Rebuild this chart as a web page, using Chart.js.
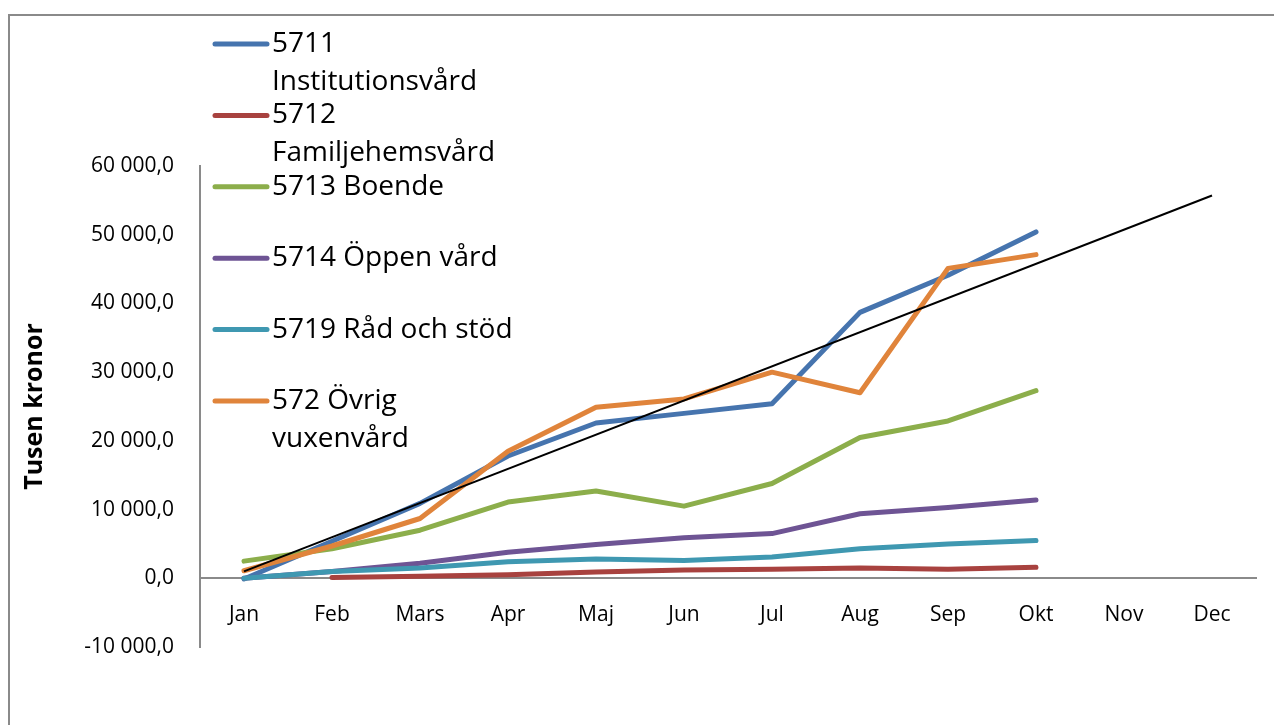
<!DOCTYPE html>
<html>
<head>
<meta charset="utf-8">
<script src="https://cdn.jsdelivr.net/npm/chart.js@4/dist/chart.umd.min.js"></script>
<style>
  html, body { margin: 0; padding: 0; background: #fff; overflow: hidden; }
  #frame { position: absolute; left: 8px; top: 14px; width: 1300px; height: 800px; border: 2px solid #8a8a8a; }
  #wrap { position: absolute; left: 0; top: 0; width: 1274px; height: 725px; }
</style>
</head>
<body>
<div id="frame"></div>
<div id="wrap"><canvas id="grafica"></canvas></div>
<script>
var months = ["Jan", "Feb", "Mars", "Apr", "Maj", "Jun", "Jul", "Aug", "Sep", "Okt", "Nov", "Dec"];

var institutionsvard = [-100, 5400, 10900, 17800, 22600, 24000, 25400, 38700, 44100, 50400];
var familjehemsvard = [null, 100, 300, 500, 900, 1200, 1300, 1500, 1300, 1600];
var boende = [2500, 4300, 7000, 11100, 12700, 10500, 13800, 20500, 22900, 27300];
var oppenVard = [0, 1000, 2200, 3800, 4900, 5900, 6500, 9400, 10300, 11400];
var radOchStod = [0, 1000, 1500, 2400, 2800, 2600, 3100, 4300, 5000, 5500];
var ovrigVuxenvard = [1100, 4700, 8700, 18500, 24900, 26100, 30000, 27000, 45100, 47100];
// linjär trend, read at first and last month
var trend = [1000, null, null, null, null, null, null, null, null, null, null, 55700];

var labels = ["5711 Institutionsvård", "5712 Familjehemsvård", "5713 Boende",
              "5714 Öppen vård", "5719 Råd och stöd", "572 Övrig vuxenvård"];
var colors = ["#4674ae", "#a8423f", "#8cae4b", "#6e5494", "#3f98b1", "#e0843b"];
var yTicks = { min: -10000, max: 60000, step: 10000 };

function kr(v) {
    var s = Math.abs(v).toFixed(0).replace(/\B(?=(\d{3})+(?!\d))/g, ' ');
    return (v < 0 ? '-' : '') + s + ',0';
}

var series = [institutionsvard, familjehemsvard, boende, oppenVard, radOchStod, ovrigVuxenvard];
var datasets = series.map(function (d, i) {
    return {
        label: labels[i],
        data: d,
        borderColor: colors[i],
        backgroundColor: colors[i],
        borderWidth: 5,
        pointRadius: 0,
        borderCapStyle: 'round',
        borderJoinStyle: 'round',
        tension: 0,
        order: 10 - i
    };
});
datasets.push({
    label: 'trend',
    data: trend,
    borderColor: '#000',
    borderWidth: 2,
    pointRadius: 0,
    spanGaps: true,
    order: 0
});

// legend drawn on top of the plot, like the original
var overlayLegend = {
    id: 'overlayLegend',
    afterDraw: function (chart) {
        var ctx = chart.ctx;
        ctx.save();
        ctx.font = '28px "Open Sans"';
        ctx.textBaseline = 'middle';
        ctx.fillStyle = '#000';
        for (var i = 0; i < 6; i++) {
            var ds = chart.data.datasets[i];
            var y = 44 + i * 71.4;
            ctx.strokeStyle = ds.borderColor;
            ctx.lineWidth = 5;
            ctx.lineCap = 'round';
            ctx.beginPath();
            ctx.moveTo(215, y);
            ctx.lineTo(267, y);
            ctx.stroke();
            // wrap words
            var words = ds.label.split(' '), line = '', lines = [];
            words.forEach(function (w) {
                var t = line ? line + ' ' + w : w;
                if (line && ctx.measureText(t).width > 250) { lines.push(line); line = w; }
                else line = t;
            });
            lines.push(line);
            lines.forEach(function (l, k) { ctx.fillText(l, 272, y + k * 38); });
        }
        ctx.restore();
    }
};

var ctx = document.getElementById("grafica").getContext('2d');
var myChart = new Chart(ctx, {
    type: 'line',
    data: { labels: months, datasets: datasets },
    options: {
        responsive: true,
        maintainAspectRatio: false,
        animation: false,
        layout: { padding: { top: 166, bottom: 78, left: 0, right: 18 } },
        plugins: { legend: { display: false }, tooltip: { enabled: false } },
        scales: {
            x: {
                position: { y: 0 },
                offset: true,
                grid: { display: false, drawTicks: false },
                border: { display: true, color: '#8a8a8a', width: 2 },
                ticks: { color: '#000', padding: 24, maxRotation: 0, font: { family: 'Open Sans', size: 21 } }
            },
            y: {
                min: yTicks.min,
                max: yTicks.max,
                afterFit: function (scale) { scale.width = 200; },
                grid: { display: false, drawTicks: false },
                border: { display: true, color: '#8a8a8a', width: 2 },
                ticks: {
                    stepSize: yTicks.step,
                    padding: 26,
                    color: '#000',
                    font: { family: 'Open Sans', size: 21 },
                    callback: function (v) { return kr(v); }
                },
                title: {
                    display: true,
                    text: 'Tusen kronor',
                    color: '#000',
                    font: { family: 'Open Sans', size: 25, weight: 'bold' },
                    padding: { top: 20, bottom: 0 }
                }
            }
        }
    },
    plugins: [overlayLegend]
});
</script>
</body>
</html>
